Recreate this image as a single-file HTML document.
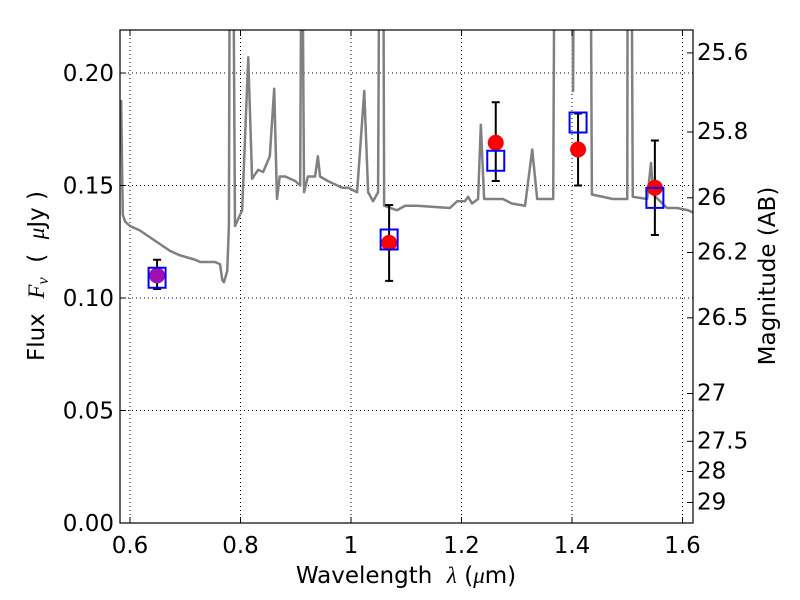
<!DOCTYPE html>
<html><head><meta charset="utf-8">
<style>
body{margin:0;background:#fff;}
svg{display:block;font-family:"DejaVu Sans","Liberation Sans",sans-serif;}
</style></head>
<body>
<svg id="chart" width="800" height="600" viewBox="0 0 800 600">
<rect width="800" height="600" fill="#fff"/>
<defs><clipPath id="plotclip"><rect x="120" y="30" width="573" height="493"/></clipPath></defs>
<g id="grid"></g>
<g id="spectrum" clip-path="url(#plotclip)"></g>
<g id="points"></g>
<rect x="120" y="30" width="573" height="493" fill="none" stroke="#000" stroke-width="1.2"/>
<g id="axes"></g>
<text x="406" y="583" font-size="23" text-anchor="middle" xml:space="preserve">Wavelength  <tspan font-style="italic" font-family="Liberation Serif, serif">λ</tspan> (<tspan font-style="italic" font-family="Liberation Serif, serif">μ</tspan>m)</text>
<text transform="translate(44,276) rotate(-90)" font-size="23" text-anchor="middle" xml:space="preserve">Flux  <tspan font-style="italic" font-family="Liberation Serif, serif">F<tspan font-size="16" dy="4">ν</tspan></tspan><tspan dy="-4">  (  </tspan><tspan font-style="italic" font-family="Liberation Serif, serif">μ</tspan>Jy )</text>
<text transform="translate(775,276) rotate(-90)" font-size="23" text-anchor="middle">Magnitude (AB)</text>
</svg>
<script>
const specLam=[0.584,0.586,0.587,0.591,0.600,0.618,0.636,0.654,0.672,0.690,0.718,0.727,0.754,0.763,0.767,0.770,0.776,0.779,0.781,0.786,0.790,0.803,0.814,0.821,0.832,0.841,0.853,0.861,0.866,0.871,0.881,0.899,0.908,0.911,0.915,0.922,0.935,0.940,0.944,0.958,0.984,0.995,1.011,1.024,1.031,1.040,1.049,1.052,1.058,1.060,1.083,1.098,1.116,1.119,1.179,1.192,1.206,1.212,1.219,1.230,1.235,1.241,1.275,1.291,1.315,1.328,1.337,1.366,1.369,1.400,1.402,1.404,1.433,1.436,1.474,1.500,1.501,1.507,1.510,1.536,1.543,1.547,1.572,1.590,1.610,1.619];
const specFlux=[0.188,0.152,0.137,0.134,0.132,0.130,0.127,0.124,0.121,0.119,0.117,0.116,0.116,0.115,0.108,0.107,0.112,0.132,0.300,0.300,0.132,0.139,0.207,0.153,0.157,0.156,0.163,0.193,0.144,0.154,0.154,0.152,0.150,0.300,0.147,0.154,0.154,0.163,0.154,0.152,0.149,0.149,0.147,0.192,0.147,0.143,0.147,0.300,0.300,0.141,0.139,0.141,0.141,0.141,0.140,0.143,0.143,0.145,0.142,0.144,0.177,0.144,0.144,0.142,0.141,0.166,0.144,0.144,0.300,0.300,0.192,0.300,0.300,0.146,0.144,0.144,0.300,0.300,0.145,0.144,0.160,0.146,0.140,0.140,0.139,0.138];
const obsLam=[0.649,1.069,1.262,1.411,1.550];
const obsFlux=[0.110,0.1245,0.169,0.166,0.149];
const errLo=[0.104,0.1076,0.152,0.150,0.128];
const errHi=[0.117,0.1413,0.187,0.182,0.170];
const modelFlux=[0.109,0.126,0.161,0.178,0.1445];
const xTicks=[0.6,0.8,1.0,1.2,1.4,1.6];
const xTickLabels=["0.6","0.8","1","1.2","1.4","1.6"];
const yTicks=[0,0.05,0.10,0.15,0.20];
const yTickLabels=["0.00","0.05","0.10","0.15","0.20"];
const magTicks=[25.6,25.8,26,26.2,26.5,27,27.5,28,29];
const magTickLabels=["25.6","25.8","26","26.2","26.5","27","27.5","28","29"];

const NS="http://www.w3.org/2000/svg";
const X=l=>130+(l-0.6)*552.5;
const Y=f=>523-f*2250;
const magToFlux=m=>Math.pow(10,(23.9-m)/2.5);
function mk(tag,attrs,parent){const e=document.createElementNS(NS,tag);for(const k in attrs)e.setAttribute(k,attrs[k]);parent.appendChild(e);return e;}
const grid=document.getElementById('grid'),axes=document.getElementById('axes');
xTicks.forEach((t,i)=>{
  const g=mk('line',{x1:X(t),x2:X(t),y1:30,y2:523,stroke:'#000','stroke-width':1,'stroke-dasharray':'1,3'},grid);
  
  
  mk('line',{x1:X(t),x2:X(t),y1:523,y2:517,stroke:'#000'},axes);
  mk('line',{x1:X(t),x2:X(t),y1:30,y2:36,stroke:'#000'},axes);
  const tx=mk('text',{x:X(t),y:553,'font-size':23,'text-anchor':'middle'},axes);
  tx.textContent=xTickLabels[i];
  
  
});
yTicks.forEach((t,i)=>{
  if(t>0){const g=mk('line',{x1:120,x2:693,y1:Y(t),y2:Y(t),stroke:'#000','stroke-width':1,'stroke-dasharray':'1,3'},grid);
  
  }
  mk('line',{x1:120,x2:126,y1:Y(t),y2:Y(t),stroke:'#000'},axes);
  const tx=mk('text',{x:114,y:Y(t)+8,'font-size':23,'text-anchor':'end'},axes);
  tx.textContent=yTickLabels[i];
  
  
});
magTicks.forEach((m,i)=>{
  const y=Y(magToFlux(m));
  mk('line',{x1:687,x2:693,y1:y,y2:y,stroke:'#000'},axes);
  const tx=mk('text',{x:697,y:y+7,'font-size':23},axes);
  tx.textContent=magTickLabels[i];
  
  
});
const sp=mk('polyline',{points:specLam.map((l,i)=>X(l)+','+Y(specFlux[i])).join(' '),fill:'none',stroke:'#808080','stroke-width':2.5,'stroke-linejoin':'round'},document.getElementById('spectrum'));


const pts=document.getElementById('points');
obsLam.forEach((l,i)=>{
  const x=X(l);
  const eb=mk('g',{stroke:'#000','stroke-width':2},pts);
  
  
  mk('line',{x1:x,x2:x,y1:Y(errHi[i]),y2:Y(errLo[i])},eb);
  mk('line',{x1:x-4,x2:x+4,y1:Y(errHi[i]),y2:Y(errHi[i])},eb);
  mk('line',{x1:x-4,x2:x+4,y1:Y(errLo[i]),y2:Y(errLo[i])},eb);
  const c=mk('circle',{cx:x,cy:Y(obsFlux[i]),r:8,fill:i===0?'#a010b0':'#ff0000'},pts);
  
  
  const s=mk('rect',{x:x-8.5,y:Y(modelFlux[i])-10,width:17,height:20,fill:'none',stroke:'#0000ff','stroke-width':2},pts);
  
  
});
</script>
</body></html>
